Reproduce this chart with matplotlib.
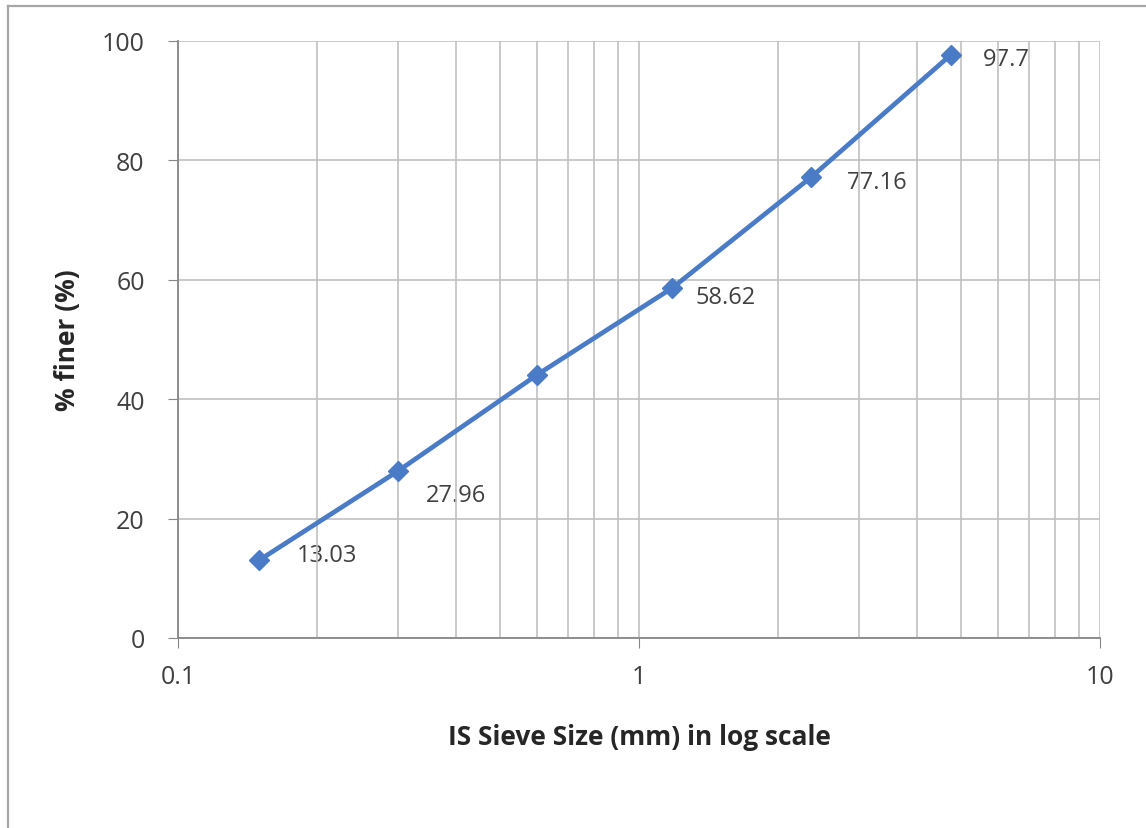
import matplotlib
matplotlib.use("Agg")
import matplotlib.pyplot as plt
import matplotlib.ticker as mticker
from matplotlib.lines import Line2D

# Sieve analysis data
sieve_size = [0.15, 0.3, 0.6, 1.18, 2.36, 4.75]
percent_finer = [13.03, 27.96, 44.05, 58.62, 77.16, 97.7]
point_labels = ["13.03", "27.96", "", "58.62", "77.16", "97.7"]

y_ticks = [0, 20, 40, 60, 80, 100]
x_ticks = [0.1, 1, 10]
x_tick_labels = ["0.1", "1", "10"]

# label offsets in points (dx, dy)
label_offsets = [(27, 4), (20, -17), (0, 0), (17, -6.5), (26, -3.5), (23, -3)]

plt.rcParams["font.family"] = ["Open Sans", "DejaVu Sans"]

fig = plt.figure(figsize=(11.46, 8.29), dpi=100)
fig.set_facecolor("white")
ax = fig.add_axes([178 / 1146, 1 - 639 / 829, (1100 - 178) / 1146, (639 - 42) / 829])

grid_color = "#C0C0C0"
axis_color = "#878787"
line_color = "#4A7BC6"
text_color = "#404040"

ax.set_xscale("log")
ax.set_xlim(0.1, 10)
ax.set_ylim(0, 100)

ax.xaxis.set_major_locator(mticker.FixedLocator(x_ticks))
ax.xaxis.set_major_formatter(mticker.FixedFormatter(x_tick_labels))
ax.xaxis.set_minor_locator(mticker.LogLocator(base=10, subs=range(2, 10)))
ax.xaxis.set_minor_formatter(mticker.NullFormatter())
ax.set_yticks(y_ticks)

ax.set_axisbelow(False)
ax.grid(True, which="major", color=grid_color, linewidth=1.2)
ax.grid(True, which="minor", axis="x", color=grid_color, linewidth=1.2)

for side in ["top", "right"]:
    ax.spines[side].set_visible(False)
for side in ["left", "bottom"]:
    ax.spines[side].set_color(axis_color)
    ax.spines[side].set_linewidth(1.3)
    ax.spines[side].set_zorder(2.6)

ax.tick_params(axis="y", which="major", direction="out", length=7, color=axis_color,
               labelsize=18, labelcolor=text_color, pad=17)
ax.tick_params(axis="x", which="major", direction="out", length=7, color=axis_color,
               labelsize=18, labelcolor=text_color, pad=12)
ax.tick_params(axis="x", which="minor", length=0)

ax.plot(sieve_size, percent_finer, color=line_color, linewidth=3.4,
        marker="D", markersize=10.5, markerfacecolor=line_color,
        markeredgecolor=line_color, zorder=4, clip_on=False)

for x, y, lab, off in zip(sieve_size, percent_finer, point_labels, label_offsets):
    if lab:
        ax.annotate(lab, (x, y), xytext=off, textcoords="offset points",
                    fontsize=17, color=text_color, ha="left", va="center", zorder=2)

ax.set_xlabel("IS Sieve Size (mm) in log scale", fontsize=19, fontweight="bold",
              color="#262626", labelpad=24)
ax.set_ylabel("% finer (%)", fontsize=19, fontweight="bold",
              color="#262626", labelpad=15)

# outer chart border
fig.add_artist(Line2D([7.5 / 1146, 7.5 / 1146], [0, 1 - 6.5 / 829],
                      transform=fig.transFigure, color="#A6A6A6", linewidth=1.6))
fig.add_artist(Line2D([7.5 / 1146, 1], [1 - 6.5 / 829, 1 - 6.5 / 829],
                      transform=fig.transFigure, color="#A6A6A6", linewidth=1.6))

fig.savefig("out.png", dpi=100, facecolor="white")
